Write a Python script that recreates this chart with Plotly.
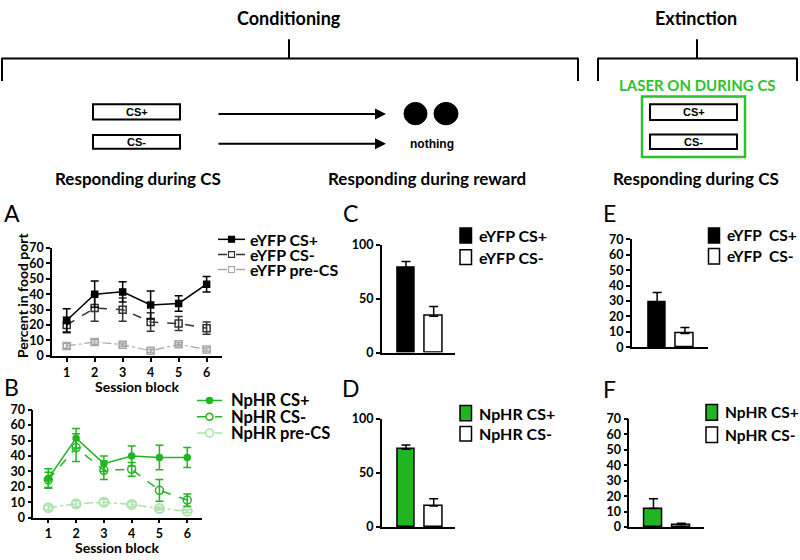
import plotly.graph_objects as go

# ---------------- data ----------------
sessions = [1, 2, 3, 4, 5, 6]

eyfp_csp = [23, 40, 41.5, 33, 34, 46.5]
eyfp_csp_err = [7.5, 8.5, 6.5, 9, 5, 5]
eyfp_csm = [20, 31, 30, 22, 21, 18]
eyfp_csm_err = [5, 8.5, 7.5, 6, 4.5, 4]
eyfp_pre = [6.5, 9, 7.3, 3.3, 7.5, 4.2]
eyfp_pre_err = [1.5, 1.5, 1, 1, 1, 1]

nphr_csp = [25.4, 51.5, 35, 40, 39, 39]
nphr_csp_err = [6.3, 6.3, 5, 6.5, 8, 6.5]
nphr_csm = [24.5, 45.4, 30.7, 31.3, 17.7, 11.4]
nphr_csm_err = [5, 9, 6, 4.5, 7, 4]
nphr_pre = [6.5, 9, 10, 8.6, 5.9, 4.2]
nphr_pre_err = [1.5, 2, 2, 1.5, 1, 1]

bar_pos = [1, 2]
reward_eyfp = [79, 33.7]
reward_eyfp_err = [5.4, 9.1]
reward_nphr = [72, 19.5]
reward_nphr_err = [4, 6.6]
ext_eyfp = [29.2, 9]
ext_eyfp_err = [6.3, 3.8]
ext_nphr = [12, 1.5]
ext_nphr_err = [6.3, 1]

W, H = 800, 560
GREEN = "#22b522"
LGREEN = "#a9e4a9"
LASER = "#2ec12e"
FONT = "Lato"


def X(px):
    return px / W


def Y(py):
    return 1 - py / H


fig = go.Figure()

# ---------------- line plots ----------------
def line_trace(y, err, color, dash, symbol, size, xa, ya, lw=1.5, mlw=1.5):
    return go.Scatter(
        x=sessions, y=y, xaxis=xa, yaxis=ya, mode="lines+markers",
        line=dict(color=color, width=lw, dash=dash),
        marker=dict(symbol=symbol, size=size, color=color, line=dict(color=color, width=mlw)),
        error_y=dict(type="data", array=err, width=4, thickness=1.5, color=color),
        cliponaxis=False, showlegend=False,
    )

fig.add_trace(line_trace(eyfp_pre, eyfp_pre_err, "#a6a6a6", "dashdot", "square-open", 7, "x", "y", lw=1.2))
fig.add_trace(line_trace(eyfp_csm, eyfp_csm_err, "#333333", "dash", "square-open", 7, "x", "y"))
fig.add_trace(line_trace(eyfp_csp, eyfp_csp_err, "black", "solid", "square", 6, "x", "y"))

fig.add_trace(line_trace(nphr_pre, nphr_pre_err, LGREEN, "dashdot", "circle-open", 9, "x2", "y2", lw=1.5, mlw=2))
fig.add_trace(line_trace(nphr_csm, nphr_csm_err, GREEN, "dash", "circle-open", 8, "x2", "y2"))
fig.add_trace(line_trace(nphr_csp, nphr_csp_err, GREEN, "solid", "circle", 6, "x2", "y2"))

# ---------------- bar plots ----------------
def bar_trace(y, err, colors, xa, ya):
    return go.Bar(
        x=bar_pos, y=y, xaxis=xa, yaxis=ya, width=0.63,
        marker=dict(color=colors, line=dict(color="black", width=1.5)),
        error_y=dict(type="data", symmetric=False, array=err, arrayminus=[0, 0],
                     width=4.5, thickness=1.5, color="black"),
        showlegend=False,
    )

fig.add_trace(bar_trace(reward_eyfp, reward_eyfp_err, ["black", "white"], "x3", "y3"))
fig.add_trace(bar_trace(reward_nphr, reward_nphr_err, [GREEN, "white"], "x4", "y4"))
fig.add_trace(bar_trace(ext_eyfp, ext_eyfp_err, ["black", "white"], "x5", "y5"))
fig.add_trace(bar_trace(ext_nphr, ext_nphr_err, [GREEN, "white"], "x6", "y6"))

# ---------------- axes ----------------
tickfont = dict(family=FONT, size=12.5, color="black", weight="bold")
base = dict(showline=True, linecolor="black", linewidth=1.5, showgrid=False,
            zeroline=False, ticks="outside", ticklen=4, tickwidth=1.5,
            tickcolor="black", tickfont=tickfont, fixedrange=True)


def xax(d0, d1, r, anchor, ticks=True):
    d = dict(base, domain=[X(d0), X(d1)], range=r, anchor=anchor)
    if ticks:
        d.update(tickmode="array", tickvals=sessions, ticktext=[str(s) for s in sessions])
    else:
        d.update(showticklabels=False, ticks="")
    return d


def yax(d_bot, d_top, r, anchor, step):
    return dict(base, domain=[Y(d_bot), Y(d_top)], range=r, anchor=anchor,
                tickmode="linear", tick0=0, dtick=step, ticklabelstandoff=0)


fig.update_layout(
    xaxis=xax(52, 222, [0.475, 6.55], "y"),
    yaxis=yax(357.5, 246.5, [0, 70], "x", 10),
    xaxis2=xax(33.3, 201.7, [0.46, 6.52], "y2"),
    yaxis2=yax(523.7, 412.7, [0, 70], "x2", 10),
    xaxis3=xax(381.7, 455, [0.123, 2.77], "y3", ticks=False),
    yaxis3=yax(354, 243.3, [0, 100], "x3", 50),
    xaxis4=xax(381.7, 455, [0.123, 2.77], "y4", ticks=False),
    yaxis4=yax(533.3, 422.3, [0, 100], "x4", 50),
    xaxis5=xax(631.7, 707.7, [0.083, 2.82], "y5", ticks=False),
    yaxis5=yax(348.7, 237.7, [0, 70], "x5", 10),
    xaxis6=xax(629.3, 704.3, [0.13, 2.83], "y6", ticks=False),
    yaxis6=yax(533.3, 422.3, [0, 70], "x6", 10),
)

shapes = []
annotations = []


def txt(px, py, s, size=16, color="black", weight="bold", xanchor="center", family=FONT, angle=0):
    annotations.append(dict(x=X(px), y=Y(py), xref="paper", yref="paper", text=s,
                            showarrow=False, xanchor=xanchor, yanchor="middle", textangle=angle,
                            borderpad=0, font=dict(family=family, size=size, color=color, weight=weight)))


def line(x0, y0, x1, y1, color="black", width=2, dash="solid"):
    shapes.append(dict(type="line", xref="paper", yref="paper", x0=X(x0), y0=Y(y0),
                       x1=X(x1), y1=Y(y1), line=dict(color=color, width=width, dash=dash)))


def rect(x0, y0, x1, y1, fill="white", color="black", width=2, kind="rect"):
    shapes.append(dict(type=kind, xref="paper", yref="paper", x0=X(x0), y0=Y(y0),
                       x1=X(x1), y1=Y(y1), fillcolor=fill, line=dict(color=color, width=width)))


# ---------------- top diagram ----------------
txt(289, 10, "Conditioning", size=18)
txt(696, 10, "Extinction", size=18)
line(289, 32, 289, 52)
line(2, 52, 578, 52)
line(2, 51, 2, 75)
line(578, 51, 578, 75)
line(697, 32, 697, 52)
line(598, 52, 797, 52)
line(598, 51, 598, 75)
line(797, 51, 797, 75)

txt(697, 79, "LASER ON DURING CS", size=15, color=LASER)
rect(642, 91, 745, 153, fill="rgba(0,0,0,0)", color=LASER, width=2.5)
rect(650, 99, 737, 115)
rect(650, 130, 737, 145)
txt(693.5, 107, "CS+", size=11, family="Liberation Sans")
txt(693.5, 137.5, "CS-", size=11, family="Liberation Sans")

rect(93, 99, 180, 114.5)
rect(93, 130.5, 180, 144.5)
txt(136.5, 107, "CS+", size=11, family="Liberation Sans")
txt(136.5, 137.5, "CS-", size=11, family="Liberation Sans")

for yy in (109, 139.5):
    annotations.append(dict(x=X(386), y=Y(yy), xref="paper", yref="paper", text="",
                            showarrow=True, ax=-169, ay=0, arrowhead=2, arrowsize=1.1,
                            arrowwidth=2, arrowcolor="black"))
rect(404, 97, 427, 120, fill="black", color="black", width=1, kind="circle")
rect(434, 97, 458, 120, fill="black", color="black", width=1, kind="circle")
txt(432, 140, "nothing", size=12, family="Liberation Sans")

txt(138, 175, "Responding during CS", size=17)
txt(427, 175, "Responding during reward", size=17)
txt(696, 175, "Responding during CS", size=17)

# ---------------- panel letters ----------------
for L, px, py in [("A", 12, 211), ("B", 11, 389), ("C", 350, 211), ("D", 351, 390),
                  ("E", 609, 211), ("F", 609, 391)]:
    txt(px, py, L, size=23, weight="normal")

# axis titles
txt(22, 295, "Percent in food port", size=14, angle=-90)
txt(137, 389, "Session block", size=14)
txt(117, 554.5, "Session block", size=14)

# ---------------- legends ----------------
# A
lgA = [("eYFP CS+", "black", "solid", "black", 237.7),
       ("eYFP CS-", "#333333", "dash", "white", 253.3),
       ("eYFP pre-CS", "#a6a6a6", "dashdot", "white", 268.8)]
for label, c, dsh, fill, yy in lgA:
    line(218, yy, 245, yy, color=c, width=1.5, dash=dsh)
    rect(228.5, yy - 3, 234.5, yy + 3, fill=fill, color=c, width=1.2)
    txt(249, yy, label, size=16, xanchor="left")

# B
lgB = [("NpHR CS+", GREEN, "solid", GREEN, 403.3, 3),
       ("NpHR CS-", GREEN, "dash", "white", 420, 3.5),
       ("NpHR pre-CS", LGREEN, "dashdot", "white", 436.7, 4)]
for label, c, dsh, fill, yy, r in lgB:
    line(197, yy, 222, yy, color=c, width=1.5, dash=dsh)
    rect(209.5 - r, yy - r, 209.5 + r, yy + r, fill=fill, color=c, width=1.5, kind="circle")
    txt(230, yy, label, size=16.5, xanchor="left")

# bar legends
def bar_legend(x0, x1, rows, tx, labels, fills, size=16):
    for (y0, y1), lab, f in zip(rows, labels, fills):
        rect(x0, y0, x1, y1, fill=f, color="black", width=1.5)
        txt(tx, (y0 + y1) / 2, lab, size=size, xanchor="left")

bar_legend(460, 471.5, [(226, 241.5), (248.5, 263.5)], 478, ["eYFP CS+", "eYFP CS-"], ["black", "white"])
bar_legend(460, 471.5, [(408.5, 424), (430, 445)], 478, ["NpHR CS+", "NpHR CS-"], [GREEN, "white"])
bar_legend(708.5, 719.5, [(226, 241.5), (247, 263)], 726, ["eYFP\u00a0 CS+", "eYFP\u00a0 CS-"],
           ["black", "white"], size=15.5)
bar_legend(706, 717.5, [(407.5, 423.5), (430.5, 446.5)], 724, ["NpHR CS+", "NpHR CS-"],
           [GREEN, "white"], size=15.5)

fig.update_layout(
    width=W, height=H, margin=dict(l=0, r=0, t=0, b=0),
    paper_bgcolor="white", plot_bgcolor="white", showlegend=False,
    shapes=shapes, annotations=annotations, bargap=0,
    font=dict(family=FONT, color="black"),
)

css_fix = (
    "var s=document.createElement('style');"
    "s.textContent='html,body{margin:0;padding:0;width:800px;height:560px;overflow:hidden;}';"
    "document.head.appendChild(s);"
    "document.documentElement.style.margin='0';document.body.style.margin='0';"
)
fig.write_html("out.html", config={"displayModeBar": False}, post_script=css_fix)
